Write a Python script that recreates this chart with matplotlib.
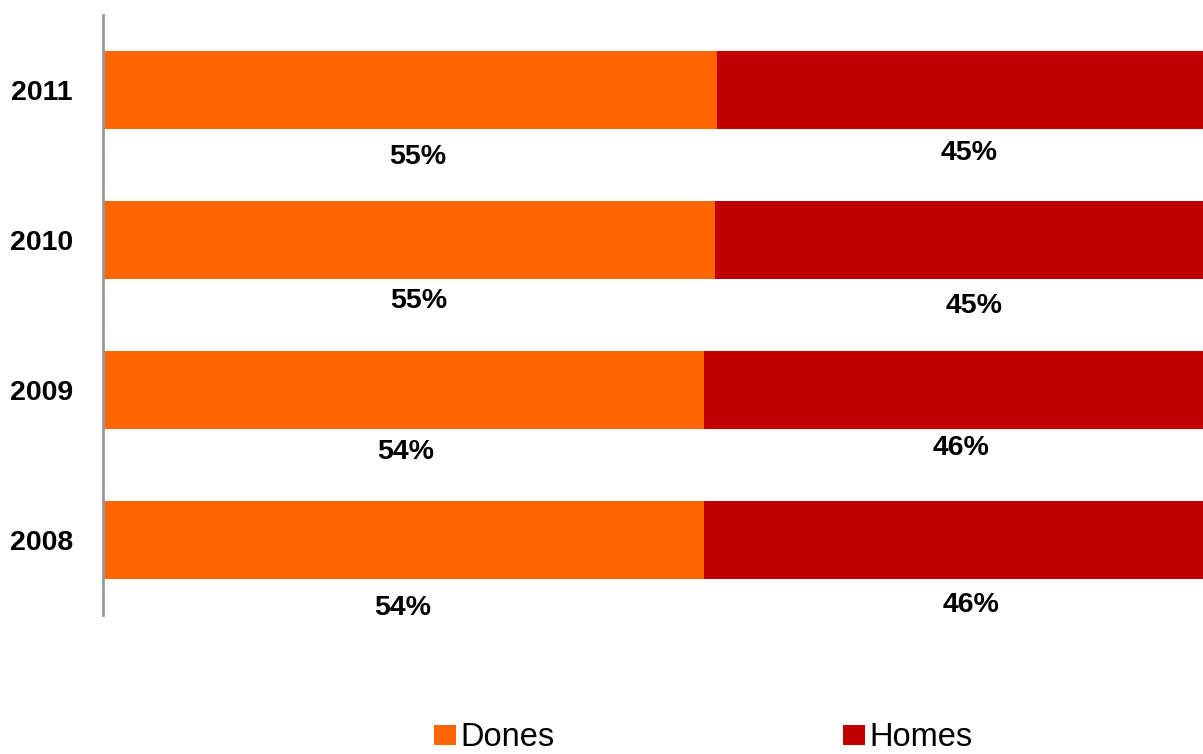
import matplotlib
matplotlib.use("Agg")
import matplotlib.pyplot as plt
from matplotlib.patches import Patch

# ---- data ----
years = ["2008", "2009", "2010", "2011"]
dones = [53.9, 53.9, 54.9, 55.1]
homes = [46.1, 46.1, 45.1, 44.9]
dones_labels = ["54%", "54%", "55%", "55%"]
homes_labels = ["46%", "46%", "45%", "45%"]
series_names = ["Dones", "Homes"]

# label nudges in pixels (dx, dy below bar centre)
dones_dx = [-1, 2.5, 10, 7.5]
dones_dy = [68, 61.5, 61, 67]
homes_dx = [10.5, 0, 7.5, 1.5]
homes_dy = [65, 57.5, 66, 63]

C_DONES = "#FF6600"
C_HOMES = "#C00000"

W, H = 1203, 754
DPI = 100
plt.rcParams['font.family'] = ['Liberation Sans', 'DejaVu Sans']

fig = plt.figure(figsize=(W / DPI, H / DPI), dpi=DPI)
ax = fig.add_axes([103 / W, 1 - 615 / H, 1 - 103 / W, 600 / H])

y = list(range(len(years)))
ax.barh(y, dones, height=0.52, color=C_DONES, edgecolor="none")
ax.barh(y, homes, left=dones, height=0.52, color=C_HOMES, edgecolor="none")

ax.set_xlim(0, 100 * (W - 103) / (1218 - 103))
ax.set_ylim(-0.5, 3.5)

pt = 72 / DPI
for i in y:
    ax.annotate(dones_labels[i], xy=(dones[i] / 2, i), xytext=(dones_dx[i] * pt, -dones_dy[i] * pt),
                textcoords="offset points", ha="center", va="center",
                fontsize=20.5, fontweight="bold", color="black")
    ax.annotate(homes_labels[i], xy=(dones[i] + homes[i] / 2, i),
                xytext=(homes_dx[i] * pt, -homes_dy[i] * pt),
                textcoords="offset points", ha="center", va="center",
                fontsize=20.5, fontweight="bold", color="black")

ax.set_yticks(y)
ax.set_yticklabels(years, fontsize=20.5, fontweight="bold")
ax.tick_params(axis="y", length=0, pad=30 * pt)
ax.set_xticks([])
for s in ["top", "right", "bottom"]:
    ax.spines[s].set_visible(False)
ax.spines["left"].set_color("#999999")
ax.spines["left"].set_linewidth(2)

handles = [Patch(facecolor=C_DONES, edgecolor="none"), Patch(facecolor=C_HOMES, edgecolor="none")]
fig.legend(handles, series_names, loc="center left", bbox_to_anchor=(434 / W, 1 - 738 / H),
           ncol=2, frameon=False, borderpad=0, borderaxespad=0,
           handlelength=0.66, handleheight=0.6, handletextpad=0.15,
           columnspacing=8.85, fontsize=23.5)

fig.savefig("out.png", dpi=DPI)
